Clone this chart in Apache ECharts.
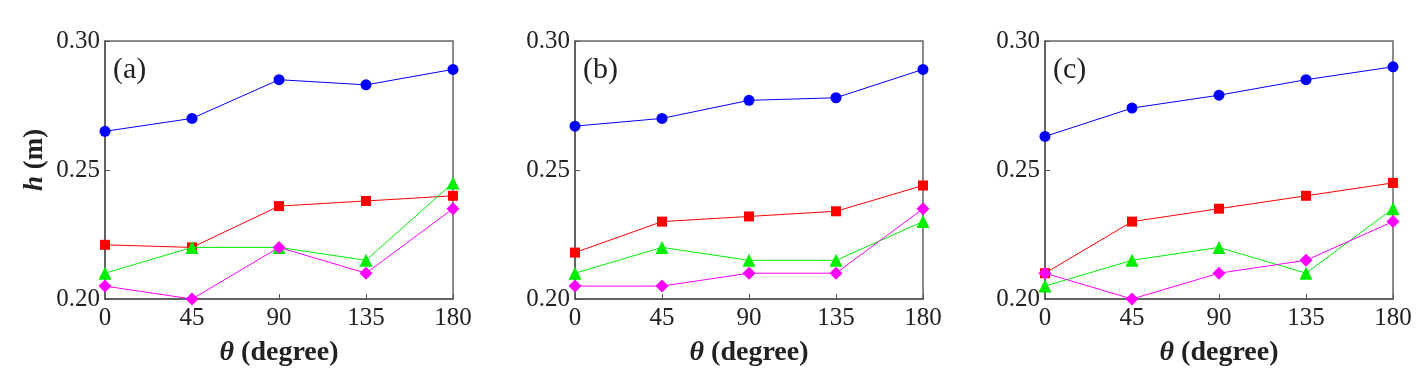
<!DOCTYPE html>
<html><head><meta charset="utf-8">
<script src="https://cdn.jsdelivr.net/npm/echarts@6/dist/echarts.min.js"></script>
<style>html,body{margin:0;padding:0;background:#fff}#c{width:1428px;height:392px}</style>
</head><body><div id="c"></div>
<script>
const angles = [0, 45, 90, 135, 180];
const xTicks = ['0', '45', '90', '135', '180'];
const panelLabels = ['(a)', '(b)', '(c)'];
// panel (a)
const aBlue = [0.265, 0.270, 0.285, 0.283, 0.289];
const aRed = [0.221, 0.220, 0.236, 0.238, 0.240];
const aGreen = [0.210, 0.220, 0.220, 0.215, 0.245];
const aMagenta = [0.205, 0.200, 0.220, 0.210, 0.235];
// panel (b)
const bBlue = [0.267, 0.270, 0.277, 0.278, 0.289];
const bRed = [0.218, 0.230, 0.232, 0.234, 0.244];
const bGreen = [0.210, 0.220, 0.215, 0.215, 0.230];
const bMagenta = [0.205, 0.205, 0.210, 0.210, 0.235];
// panel (c)
const cBlue = [0.263, 0.274, 0.279, 0.285, 0.290];
const cRed = [0.210, 0.230, 0.235, 0.240, 0.245];
const cGreen = [0.205, 0.215, 0.220, 0.210, 0.235];
const cMagenta = [0.210, 0.200, 0.210, 0.215, 0.230];

const panels = [
  [aBlue, aRed, aGreen, aMagenta],
  [bBlue, bRed, bGreen, bMagenta],
  [cBlue, cRed, cGreen, cMagenta]
];
const styles = [
  {color: '#0000ff', symbol: 'circle', size: 11},
  {color: '#ff0000', symbol: 'rect', size: 10},
  {color: '#00ee00', symbol: 'triangle', size: 13},
  {color: '#ff00ff', symbol: 'diamond', size: 13}
];
const lefts = [105, 575, 1045];
const FONT = '"Liberation Serif", "DejaVu Serif", serif';

const grids = [], xAxes = [], yAxes = [], series = [], titles = [];
lefts.forEach((l, i) => {
  grids.push({left: l, top: 41, width: 348, height: 258, show: true, borderColor: '#666', borderWidth: 1.5, backgroundColor: 'transparent'});
  xAxes.push({
    type: 'value', gridIndex: i, min: 0, max: 180, interval: 45,
    axisLine: {show: true, lineStyle: {color: '#555', width: 1.5}},
    axisTick: {show: true, inside: true, length: 5, lineStyle: {color: '#555'}},
    splitLine: {show: false},
    axisLabel: {fontFamily: FONT, fontSize: 25, color: '#222', margin: 7,
      formatter: v => xTicks[angles.indexOf(v)] ?? ''},
    name: '{i|θ} (degree)', nameLocation: 'middle', nameGap: 40,
    nameTextStyle: {fontFamily: FONT, fontSize: 28, fontWeight: 'bold', color: '#222',
      rich: {i: {fontFamily: FONT, fontSize: 28, fontWeight: 'bold', fontStyle: 'italic', color: '#222'}}}
  });
  yAxes.push({
    type: 'value', gridIndex: i, min: 0.20, max: 0.30, interval: 0.05,
    axisLine: {show: true, lineStyle: {color: '#555', width: 1.5}},
    axisTick: {show: true, inside: true, length: 5, lineStyle: {color: '#555'}},
    splitLine: {show: false},
    axisLabel: {fontFamily: FONT, fontSize: 25, color: '#222', margin: 5, formatter: v => v.toFixed(2)},
    name: i === 0 ? '{i|h} (m)' : '', nameLocation: 'middle', nameGap: 56, nameRotate: 90,
    nameTextStyle: {fontFamily: FONT, fontSize: 27, fontWeight: 'bold', color: '#222', padding: [0, 0, 0, 20],
      rich: {i: {fontFamily: FONT, fontSize: 27, fontWeight: 'bold', fontStyle: 'italic', color: '#222'}}}
  });
  titles.push({text: panelLabels[i], left: l + 3, top: 50,
    textStyle: {fontFamily: FONT, fontSize: 30, fontWeight: 'normal', color: '#222'}});
  panels[i].forEach((vals, k) => {
    const s = styles[k];
    series.push({
      type: 'line', xAxisIndex: i, yAxisIndex: i,
      data: angles.map((a, j) => [a, vals[j]]),
      symbol: s.symbol, symbolSize: s.size, showSymbol: true,
      lineStyle: {color: s.color, width: 1},
      itemStyle: {color: s.color},
      clip: false, animation: false, z: 2 + k
    });
  });
});

const chart = echarts.init(document.getElementById('c'), null, {renderer: 'canvas'});
chart.setOption({
  animation: false,
  title: titles,
  grid: grids, xAxis: xAxes, yAxis: yAxes, series: series
});
</script></body></html>
